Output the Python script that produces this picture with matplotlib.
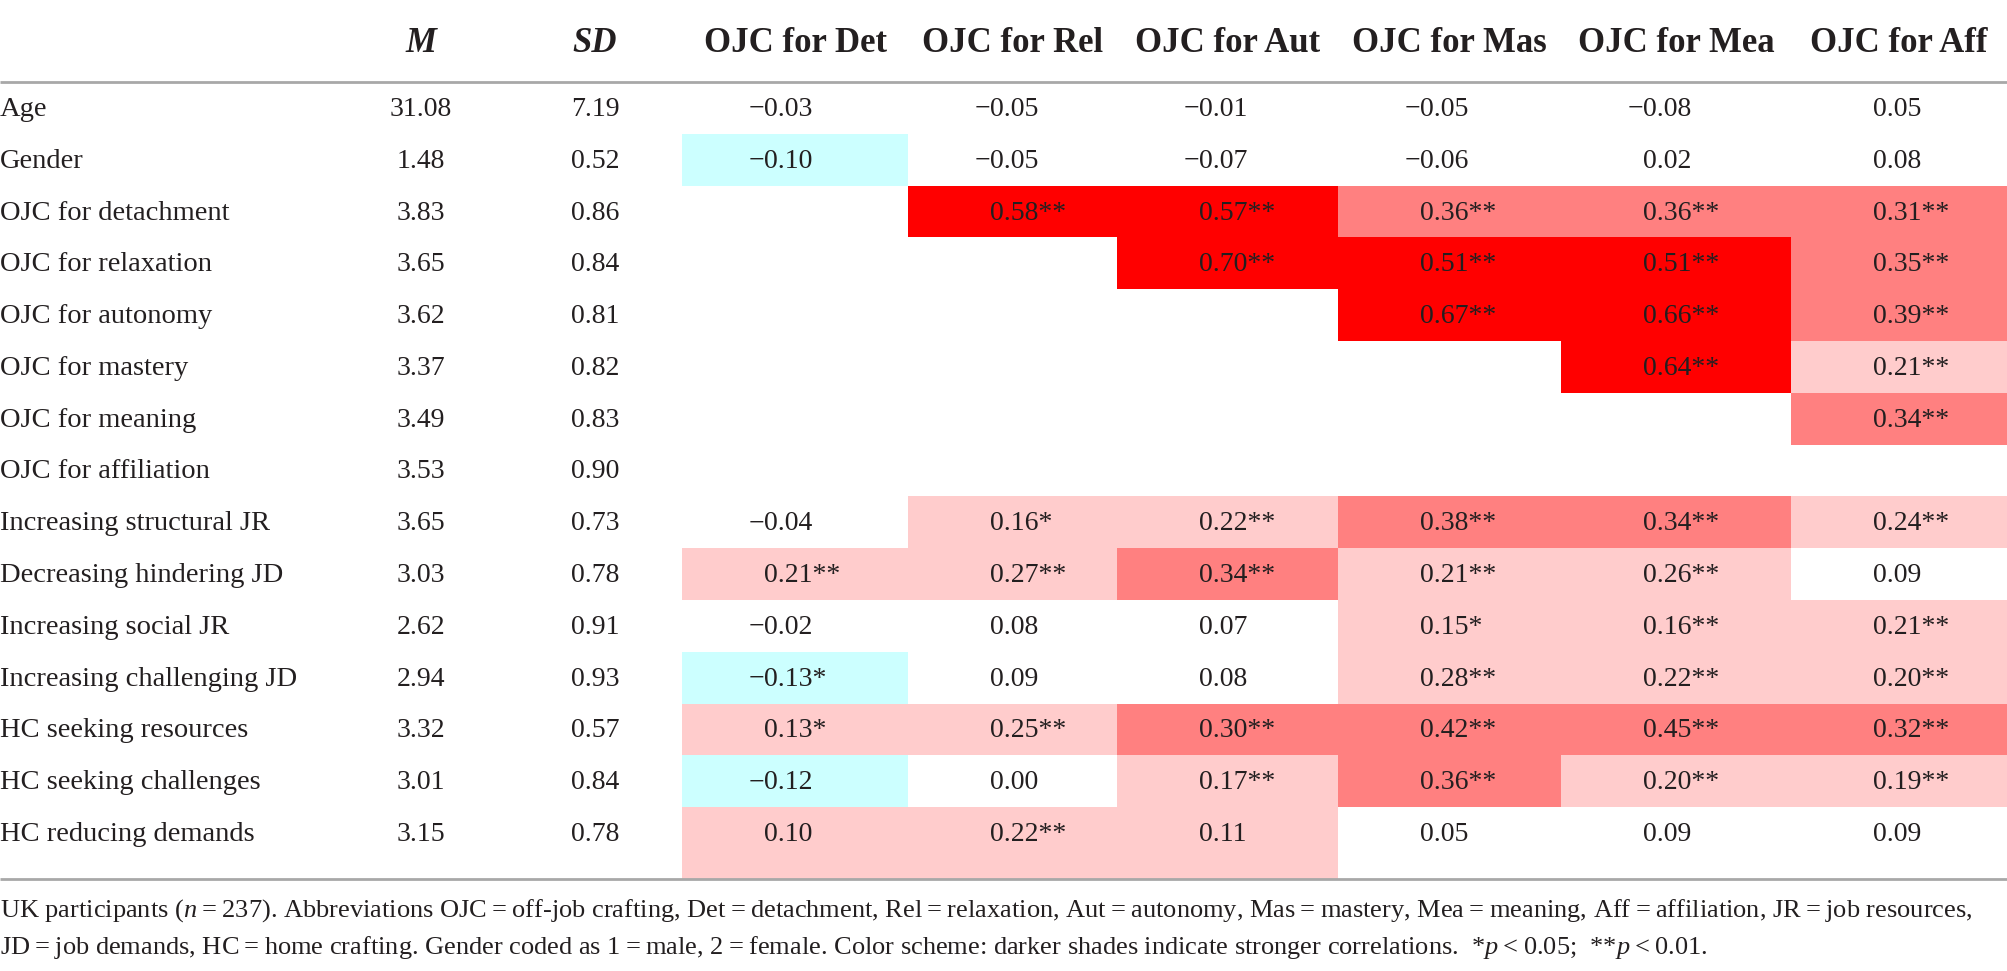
import numpy as np
import matplotlib
matplotlib.use("Agg")
import matplotlib.pyplot as plt
from matplotlib.patches import Rectangle

plt.rcParams["font.family"] = ["Liberation Serif", "DejaVu Serif"]
plt.rcParams["mathtext.fontset"] = "custom"
plt.rcParams["mathtext.rm"] = "Liberation Serif"
plt.rcParams["mathtext.it"] = "Liberation Serif:italic"
plt.rcParams["mathtext.bf"] = "Liberation Serif:bold"

# ---- data ----
row_labels = [
    "Age", "Gender", "OJC for detachment", "OJC for relaxation",
    "OJC for autonomy", "OJC for mastery", "OJC for meaning",
    "OJC for affiliation", "Increasing structural JR",
    "Decreasing hindering JD", "Increasing social JR",
    "Increasing challenging JD", "HC seeking resources",
    "HC seeking challenges", "HC reducing demands",
]
means = [31.08, 1.48, 3.83, 3.65, 3.62, 3.37, 3.49, 3.53, 3.65, 3.03,
         2.62, 2.94, 3.32, 3.01, 3.15]
sds = [7.19, 0.52, 0.86, 0.84, 0.81, 0.82, 0.83, 0.90, 0.73, 0.78,
       0.91, 0.93, 0.57, 0.84, 0.78]
col_labels = ["OJC for Det", "OJC for Rel", "OJC for Aut",
              "OJC for Mas", "OJC for Mea", "OJC for Aff"]
N = None
corr = [
    [-0.03, -0.05, -0.01, -0.05, -0.08, 0.05],
    [-0.10, -0.05, -0.07, -0.06, 0.02, 0.08],
    [N, 0.58, 0.57, 0.36, 0.36, 0.31],
    [N, N, 0.70, 0.51, 0.51, 0.35],
    [N, N, N, 0.67, 0.66, 0.39],
    [N, N, N, N, 0.64, 0.21],
    [N, N, N, N, N, 0.34],
    [N, N, N, N, N, N],
    [-0.04, 0.16, 0.22, 0.38, 0.34, 0.24],
    [0.21, 0.27, 0.34, 0.21, 0.26, 0.09],
    [-0.02, 0.08, 0.07, 0.15, 0.16, 0.21],
    [-0.13, 0.09, 0.08, 0.28, 0.22, 0.20],
    [0.13, 0.25, 0.30, 0.42, 0.45, 0.32],
    [-0.12, 0.00, 0.17, 0.36, 0.20, 0.19],
    [0.10, 0.22, 0.11, 0.05, 0.09, 0.09],
]
stars = [
    ["", "", "", "", "", ""],
    ["", "", "", "", "", ""],
    ["", "**", "**", "**", "**", "**"],
    ["", "", "**", "**", "**", "**"],
    ["", "", "", "**", "**", "**"],
    ["", "", "", "", "**", "**"],
    ["", "", "", "", "", "**"],
    ["", "", "", "", "", ""],
    ["", "*", "**", "**", "**", "**"],
    ["**", "**", "**", "**", "**", ""],
    ["", "", "", "*", "**", "**"],
    ["*", "", "", "**", "**", "**"],
    ["*", "**", "**", "**", "**", "**"],
    ["", "", "**", "**", "**", "**"],
    ["", "**", "", "", "", ""],
]
footnote_1 = ("UK participants ($\\mathit{n}$\u2009=\u2009237). Abbreviations OJC\u2009=\u2009off-job crafting, "
              "Det\u2009=\u2009detachment, Rel\u2009=\u2009relaxation, Aut\u2009=\u2009autonomy, "
              "Mas\u2009=\u2009mastery, Mea\u2009=\u2009meaning, Aff\u2009=\u2009affiliation, "
              "JR\u2009=\u2009job resources,")
footnote_2 = ("JD\u2009=\u2009job demands, HC\u2009=\u2009home crafting. Gender coded as "
              "1\u2009=\u2009male, 2\u2009=\u2009female. Color scheme: darker shades indicate "
              "stronger correlations.  *$\\mathit{p}$\u2009<\u20090.05;  **$\\mathit{p}$\u2009<\u20090.01.")

# ---- layout (pixel units) ----
W, H = 2007, 971
TXT = "#231f20"
RULE = "#a8a8a8"
col_edges = [682, 908, 1117, 1338, 1561, 1791, 2007]
m_x, sd_x = 421, 595
head_base = 52
rule_top, rule_bot = 82, 879
row_h = 51.8
num_off = 82


def shade(v):
    if v is None:
        return None
    if v <= -0.10:
        return "#ccffff"
    if v >= 0.50:
        return "#ff0000"
    if v >= 0.30:
        return "#ff8080"
    if v >= 0.10:
        return "#ffcccc"
    return None


def fmt(v):
    s = f"{abs(v):.2f}"
    return s, v < 0


fig = plt.figure(figsize=(W / 100, H / 100), dpi=100)
ax = fig.add_axes([0, 0, 1, 1])
ax.set_xlim(0, W)
ax.set_ylim(H, 0)
ax.axis("off")

n_rows = len(row_labels)
for i in range(n_rows):
    top = rule_top + row_h * i
    bot = rule_bot if i == n_rows - 1 else top + row_h
    base = top + row_h / 2 + 8
    for j in range(len(col_labels)):
        v = corr[i][j]
        c = shade(v)
        if c:
            ax.add_patch(Rectangle((col_edges[j], top), col_edges[j + 1] - col_edges[j],
                                   bot - top, facecolor=c, edgecolor="none", zorder=1))
        if v is not None:
            s, neg = fmt(v)
            x0 = col_edges[j] + num_off
            ax.text(x0, base, s + stars[i][j], ha="left", va="baseline",
                    fontsize=20, color=TXT, zorder=3)
            if neg:
                ax.text(x0, base, "\u2212", ha="right", va="baseline",
                        fontsize=20, color=TXT, zorder=3)
    ax.text(0, base, row_labels[i], ha="left", va="baseline", fontsize=20.5, color=TXT)
    ax.text(m_x, base, f"{means[i]:.2f}", ha="center", va="baseline", fontsize=20, color=TXT)
    ax.text(sd_x, base, f"{sds[i]:.2f}", ha="center", va="baseline", fontsize=20, color=TXT)

# header
ax.text(m_x, head_base, "M", ha="center", va="baseline", fontsize=25,
        fontweight="bold", fontstyle="italic", color=TXT)
ax.text(sd_x, head_base, "SD", ha="center", va="baseline", fontsize=25,
        fontweight="bold", fontstyle="italic", color=TXT)
for j, lab in enumerate(col_labels):
    cx = (col_edges[j] + col_edges[j + 1]) / 2
    ax.text(cx, head_base, lab, ha="center", va="baseline", fontsize=25,
            fontweight="bold", color=TXT)

ax.plot([0, W], [rule_top, rule_top], color=RULE, lw=2, zorder=4, solid_capstyle="butt")
ax.plot([0, W], [rule_bot, rule_bot], color=RULE, lw=2, zorder=4, solid_capstyle="butt")

ax.text(0, 917, footnote_1, ha="left", va="baseline", fontsize=19, color=TXT)
ax.text(0, 954, footnote_2, ha="left", va="baseline", fontsize=19, color=TXT)

fig.savefig("out.png", dpi=100, facecolor="white")
